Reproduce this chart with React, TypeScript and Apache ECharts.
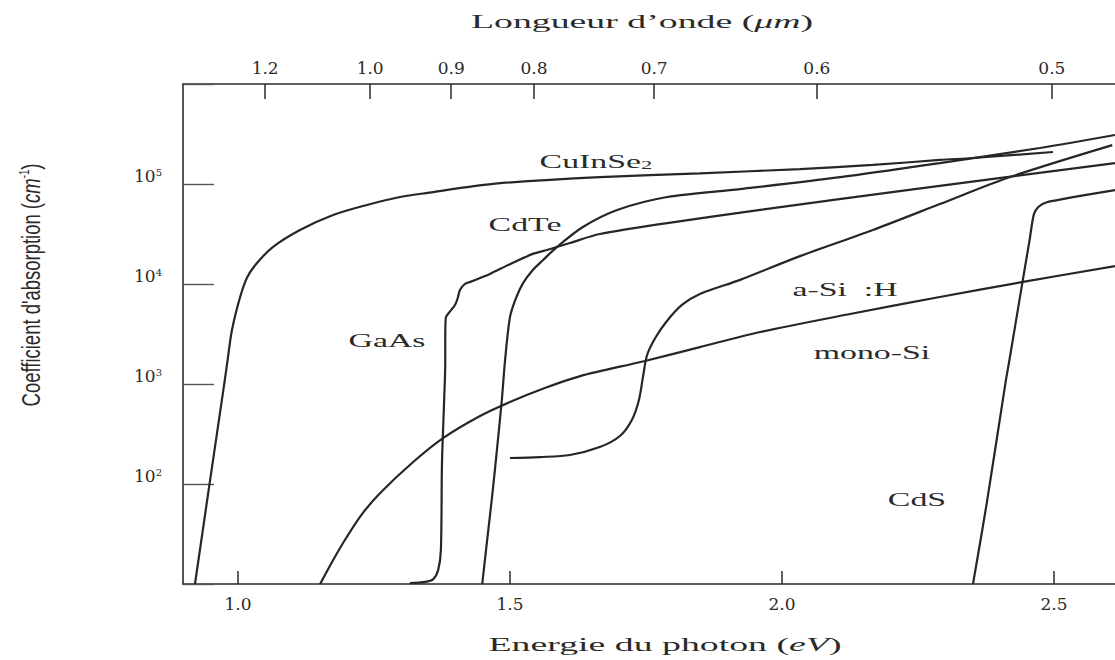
import React, { useEffect, useRef } from "react";
import * as echarts from "echarts";

// Bottom axis: photon energy (eV)
const energyTicks = [1.0, 1.5, 2.0, 2.5];
// Top axis: wavelength (µm) labels and the energy where each tick sits
const waveTickLabels = ["1.2", "1.0", "0.9", "0.8", "0.7", "0.6", "0.5"];
const waveTickEnergy = [1.05, 1.243, 1.392, 1.544, 1.765, 2.064, 2.496];
// Absorption coefficient (cm^-1) labelled decades
const alphaTickExponents = [2, 3, 4, 5];

// Curves: [energy eV, absorption coefficient cm^-1]
const cuInSe2: [number, number][] = [
  [0.921, 10], [0.948, 102], [0.975, 1020], [0.981, 1740], [0.989, 3470],
  [1.004, 7410], [1.017, 11700], [1.035, 16200], [1.064, 23400], [1.114, 34700],
  [1.175, 49000], [1.237, 61700], [1.298, 74100], [1.359, 83000], [1.421, 93000],
  [1.482, 102000], [1.665, 117000], [1.849, 128000], [2.033, 141000],
  [2.167, 155000], [2.29, 174000], [2.351, 182000], [2.498, 209000],
];
const gaAs: [number, number][] = [
  [1.316, 10.2], [1.344, 10.5], [1.359, 11.2], [1.368, 13.8], [1.373, 21.9],
  [1.375, 162], [1.379, 692], [1.381, 1620], [1.381, 2750], [1.382, 4570],
  [1.392, 5500], [1.399, 6170], [1.404, 7240], [1.408, 8710], [1.417, 10000],
  [1.427, 10500], [1.445, 11500], [1.463, 12600], [1.5, 15800], [1.542, 20000],
  [1.568, 21900], [1.61, 25700], [1.665, 31600], [1.789, 40700], [1.96, 55000],
  [2.23, 87000], [2.612, 162000],
];
const cdTe: [number, number][] = [
  [1.449, 10], [1.458, 27.5], [1.467, 74], [1.476, 219], [1.485, 692],
  [1.491, 1740], [1.5, 4680], [1.511, 7240], [1.524, 10200], [1.542, 13800],
  [1.561, 17400], [1.586, 23400], [1.634, 37200], [1.697, 55000], [1.789, 74100],
  [1.923, 89000], [2.107, 117000], [2.29, 162000], [2.474, 229000], [2.612, 309000],
];
const aSiH: [number, number][] = [
  [1.5, 182], [1.555, 186], [1.61, 195], [1.665, 234], [1.702, 302],
  [1.724, 437], [1.737, 692], [1.745, 1230], [1.752, 1950], [1.767, 2880],
  [1.787, 4170], [1.816, 6170], [1.849, 7940], [1.923, 11000], [2.033, 19000],
  [2.167, 34700], [2.29, 63000], [2.414, 115000], [2.607, 245000],
];
const monoSi: [number, number][] = [
  [1.151, 10], [1.175, 17.4], [1.2, 29.5], [1.228, 50], [1.261, 81],
  [1.322, 166], [1.377, 288], [1.445, 479], [1.5, 661], [1.564, 912],
  [1.629, 1200], [1.748, 1700], [1.849, 2340], [1.96, 3310], [2.125, 5010],
  [2.29, 7410], [2.443, 10500], [2.612, 15100],
];
const cdS: [number, number][] = [
  [2.351, 10], [2.376, 63], [2.411, 1050], [2.418, 1740], [2.442, 10500],
  [2.455, 27500], [2.463, 50000], [2.471, 59000], [2.484, 65000], [2.506, 69000],
  [2.548, 76000], [2.612, 87000],
];

export default function App() {
  const ref = useRef<HTMLDivElement>(null);

  useEffect(() => {
    if (!ref.current) return;
    const chart = echarts.init(ref.current, null, { renderer: "svg" });
    const serif = "'Liberation Serif', 'Times New Roman', serif";
    const wideSerif = "'DejaVu Serif', serif";
    const sans = "'Liberation Sans Narrow', 'Liberation Sans', sans-serif";
    const axisColor = "#2a2a2a";
    const textColor = "#2a2a2a";
    const curveColor = "#262626";

    const mk = (name: string, data: [number, number][]) => ({
      type: "line",
      name,
      data,
      xAxisIndex: 0,
      yAxisIndex: 0,
      symbol: "none",
      showSymbol: false,
      smooth: 0.3,
      silent: true,
      lineStyle: { color: curveColor, width: 2.2 },
      z: 3,
    });

    const labelStyle = (text: string, x: number, y: number, rich?: any) => ({
      type: "text",
      x,
      y,
      scaleX: 1.88,
      silent: true,
      style: {
        text,
        fontFamily: serif,
        fontSize: 18,
        fill: textColor,
        align: "center",
        verticalAlign: "middle",
        textAlign: "center",
        textVerticalAlign: "middle",
        rich,
      },
    });

    const xMin = 0.899;
    const xMax = 2.612;

    chart.setOption({
      animation: false,
      backgroundColor: "#ffffff",
      grid: { left: 183, top: 84, right: 0, bottom: 76 },
      xAxis: [
        {
          type: "value",
          position: "bottom",
          min: xMin,
          max: xMax,
          axisLine: { show: true, onZero: false, lineStyle: { color: axisColor, width: 1.6 } },
          axisTick: {
            show: true,
            inside: true,
            length: 13,
            customValues: energyTicks,
            lineStyle: { color: axisColor, width: 1.5 },
          },
          axisLabel: {
            customValues: energyTicks,
            formatter: (v: number) => v.toFixed(1),
            fontFamily: wideSerif,
            fontSize: 17,
            color: textColor,
            margin: 11,
          },
          splitLine: { show: false },
        },
        {
          type: "value",
          position: "top",
          min: xMin,
          max: xMax,
          axisLine: { show: true, onZero: false, lineStyle: { color: axisColor, width: 1.6 } },
          axisTick: {
            show: true,
            inside: true,
            length: 15,
            customValues: waveTickEnergy,
            lineStyle: { color: axisColor, width: 1.5 },
          },
          axisLabel: {
            customValues: waveTickEnergy,
            formatter: (v: number) => {
              let best = 0;
              waveTickEnergy.forEach((e, i) => {
                if (Math.abs(e - v) < Math.abs(waveTickEnergy[best] - v)) best = i;
              });
              return waveTickLabels[best];
            },
            fontFamily: wideSerif,
            fontSize: 17,
            color: textColor,
            margin: 8,
          },
          splitLine: { show: false },
        },
      ],
      yAxis: {
        type: "log",
        logBase: 10,
        min: 10,
        max: 1e6,
        axisLine: { show: true, onZero: false, lineStyle: { color: axisColor, width: 1.6 } },
        axisTick: {
          show: true,
          inside: true,
          length: 31,
          lineStyle: { color: "#555", width: 1.4 },
        },
        axisLabel: {
          margin: 21,
          verticalAlign: "bottom",
          formatter: (v: number) => {
            const e = Math.round(Math.log10(v));
            if (alphaTickExponents.indexOf(e) < 0) return "";
            return `{b|10}{s|${e}}`;
          },
          rich: {
            b: { fontFamily: wideSerif, fontSize: 17, color: textColor },
            s: { fontFamily: wideSerif, fontSize: 10, color: textColor, verticalAlign: "top" },
          },
        },
        splitLine: { show: false },
      },
      series: [
        mk("CuInSe₂", cuInSe2),
        mk("GaAs", gaAs),
        mk("CdTe", cdTe),
        mk("a-Si:H", aSiH),
        mk("mono-Si", monoSi),
        mk("CdS", cdS),
      ],
      graphic: [
        {
          type: "text",
          x: 642,
          y: 22,
          scaleX: 2.1,
          silent: true,
          style: {
            text: "{a|Longueur d’onde (}{i|μm}{a|)}",
            align: "center",
            verticalAlign: "middle",
            textAlign: "center",
            textVerticalAlign: "middle",
            fill: textColor,
            rich: {
              a: { fontFamily: serif, fontSize: 18, fill: textColor },
              i: { fontFamily: serif, fontSize: 18, fontStyle: "italic", fill: textColor },
            },
          },
        },
        {
          type: "text",
          x: 665,
          y: 645,
          scaleX: 2.1,
          silent: true,
          style: {
            text: "{a|Energie du photon (}{i|eV}{a|)}",
            align: "center",
            verticalAlign: "middle",
            textAlign: "center",
            textVerticalAlign: "middle",
            fill: textColor,
            rich: {
              a: { fontFamily: serif, fontSize: 18, fill: textColor },
              i: { fontFamily: serif, fontSize: 18, fontStyle: "italic", fill: textColor },
            },
          },
        },
        {
          type: "text",
          x: 31,
          y: 285,
          rotation: Math.PI / 2,
          scaleX: 0.88,
          scaleY: 1.25,
          silent: true,
          style: {
            text: "{a|Coefficient d'absorption (}{i|cm}{s|-1}{a|)}",
            align: "center",
            verticalAlign: "middle",
            textAlign: "center",
            textVerticalAlign: "middle",
            fill: textColor,
            rich: {
              a: { fontFamily: sans, fontSize: 21, fill: textColor },
              i: { fontFamily: sans, fontSize: 21, fontStyle: "italic", fill: textColor },
              s: { fontFamily: sans, fontSize: 11, fill: textColor, verticalAlign: "top" },
            },
          },
        },
        labelStyle("{a|CuInSe}{b|2}", 596, 162, {
          a: { fontFamily: serif, fontSize: 18, fill: textColor },
          b: { fontFamily: serif, fontSize: 12, fill: textColor, verticalAlign: "bottom" },
        }),
        labelStyle("CdTe", 525, 225),
        labelStyle("GaAs", 387, 341),
        labelStyle("a-Si  :H", 845, 290),
        labelStyle("mono-Si", 872, 353),
        labelStyle("CdS", 917, 500),
      ],
    });

    return () => chart.dispose();
  }, []);

  return (
    <div
      ref={ref}
      style={{ position: "absolute", left: 0, top: 0, width: 1115, height: 660, background: "#fff" }}
    />
  );
}
